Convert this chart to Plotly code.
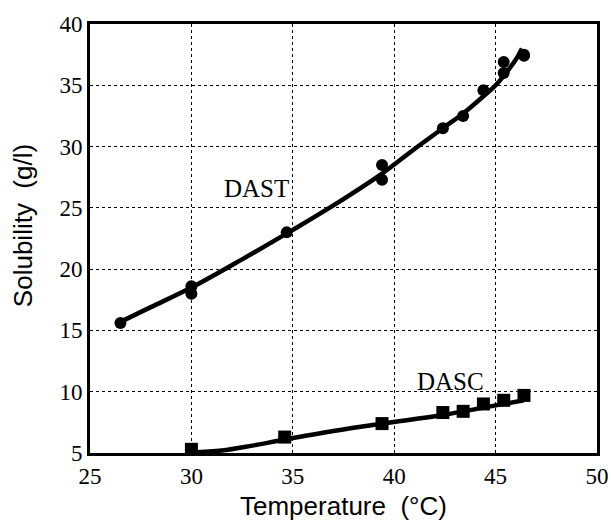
import plotly.graph_objects as go

# Measured points
dast_t = [26.5, 30.0, 30.0, 34.7, 39.4, 39.4, 42.4, 43.4, 44.4, 45.4, 45.4, 46.4, 46.4]
dast_s = [15.6, 18.6, 18.0, 23.0, 28.5, 27.3, 31.5, 32.5, 34.6, 36.9, 36.0, 37.5, 37.4]
dasc_t = [30.0, 34.6, 39.4, 42.4, 43.4, 44.4, 45.4, 46.4]
dasc_s = [5.3, 6.3, 7.4, 8.3, 8.4, 9.0, 9.3, 9.7]

# Fitted curves
dast_fit_t = [26.5, 28.0, 30.0, 32.5, 35.0, 37.0, 39.4, 41.0, 42.4, 43.4, 44.4, 45.0, 45.6, 46.0, 46.3]
dast_fit_s = [15.7, 16.9, 18.5, 20.8, 23.2, 25.2, 27.8, 29.8, 31.5, 32.7, 34.1, 35.0, 36.2, 37.1, 38.0]
dasc_fit_t = [30.0, 31.5, 33.0, 34.6, 37.0, 39.4, 42.4, 44.4, 46.4]
dasc_fit_s = [5.05, 5.2, 5.6, 6.1, 6.8, 7.4, 8.1, 8.7, 9.3]

x_ticks = [25, 30, 35, 40, 45, 50]
y_ticks = [5, 10, 15, 20, 25, 30, 35, 40]

fig = go.Figure()
fig.add_trace(go.Scatter(x=dast_fit_t, y=dast_fit_s, mode="lines",
                         line=dict(color="black", width=4.5, shape="spline"),
                         showlegend=False, hoverinfo="skip"))
fig.add_trace(go.Scatter(x=dasc_fit_t, y=dasc_fit_s, mode="lines",
                         line=dict(color="black", width=4.5, shape="spline"),
                         showlegend=False, hoverinfo="skip"))
fig.add_trace(go.Scatter(x=dast_t, y=dast_s, mode="markers", name="DAST",
                         marker=dict(symbol="circle", size=12, color="black"),
                         showlegend=False))
fig.add_trace(go.Scatter(x=dasc_t, y=dasc_s, mode="markers", name="DASC",
                         marker=dict(symbol="square", size=13, color="black"),
                         showlegend=False))

fig.add_annotation(x=33.2, y=26.55, text="DAST", showarrow=False,
                   font=dict(family="Liberation Serif", size=25, color="black"))
fig.add_annotation(x=42.8, y=10.85, text="DASC", showarrow=False,
                   font=dict(family="Liberation Serif", size=25, color="black"))

title_font = dict(family="Liberation Sans, Arial", size=26, color="black")
# axis titles as annotations (paper coords relative to plot area)
fig.add_annotation(xref="paper", yref="paper", x=-0.132, y=0.529,
                   xanchor="center", yanchor="middle",
                   text="Solubility\u00a0\u00a0(g/l)", textangle=-90, showarrow=False,
                   font=title_font)
fig.add_annotation(xref="paper", yref="paper", x=0.5, y=-0.124,
                   xanchor="center", yanchor="middle",
                   text="Temperature\u00a0\u00a0(°C)", showarrow=False,
                   font=title_font)

axis_common = dict(showline=True, linewidth=3, linecolor="black", mirror=True,
                   showgrid=True, gridcolor="black", gridwidth=1, griddash="dot",
                   zeroline=False, ticks="", automargin=False,
                   tickfont=dict(family="Liberation Serif", size=23, color="black"))

fig.update_xaxes(range=[25, 50], tickvals=x_ticks, **axis_common)
fig.update_yaxes(range=[5, 40], tickvals=y_ticks, **axis_common)

fig.update_layout(width=611, height=522, plot_bgcolor="white", paper_bgcolor="white",
                  margin=dict(l=90, r=14, t=24, b=69))

fig.write_html("out.html")
